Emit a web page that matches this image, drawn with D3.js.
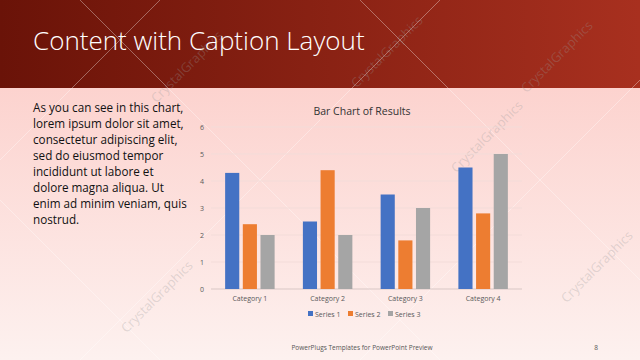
<!DOCTYPE html>
<html lang="en">
<head>
  <meta charset="UTF-8">
  <title>Content with Caption Layout</title>
  <script src="https://d3js.org/d3.v7.min.js"></script>
  <style>
    body { margin: 0; font-family: "Open Sans", sans-serif; }
    svg { display: block; }
  </style>
</head>
<body>
  <div id="slide"></div>

  <script>
    const categories = ["Category 1", "Category 2", "Category 3", "Category 4"];
    const seriesNames = ["Series 1", "Series 2", "Series 3"];
    const series1 = [4.3, 2.5, 3.5, 4.5];
    const series2 = [2.4, 4.4, 1.8, 2.8];
    const series3 = [2, 2, 3, 5];
    const yTicks = [0, 1, 2, 3, 4, 5, 6];
    const colors = ["#4472C4", "#ED7D31", "#A5A5A5"];
    const bodyLines = [
      "As you can see in this chart,",
      "lorem ipsum dolor sit amet,",
      "consectetur adipiscing elit,",
      "sed do eiusmod tempor",
      "incididunt ut labore et",
      "dolore magna aliqua. Ut",
      "enim ad minim veniam, quis",
      "nostrud."
    ];

    const W = 640, H = 360;
    const svg = d3.select("#slide").append("svg")
      .attr("width", W).attr("height", H);

    const defs = svg.append("defs");
    const bg = defs.append("linearGradient").attr("id", "bg")
      .attr("x1", 0).attr("y1", 0).attr("x2", 0).attr("y2", 1);
    bg.append("stop").attr("offset", "0%").attr("stop-color", "#fcc9c4");
    bg.append("stop").attr("offset", "100%").attr("stop-color", "#fdf1ef");
    const hdr = defs.append("linearGradient").attr("id", "hdr")
      .attr("x1", 0).attr("y1", 0).attr("x2", 1).attr("y2", 0);
    hdr.append("stop").attr("offset", "0%").attr("stop-color", "#6a1308");
    hdr.append("stop").attr("offset", "100%").attr("stop-color", "#a8301f");

    svg.append("rect").attr("width", W).attr("height", H).attr("fill", "url(#bg)");
    svg.append("rect").attr("width", W).attr("height", 88).attr("fill", "url(#hdr)");

    // watermark lines
    const wm = svg.append("g").attr("stroke", "#ffffff").attr("stroke-opacity", 0.35).attr("stroke-width", 1);
    [-200, 80, 360, 640].forEach(x0 => {
      wm.append("line").attr("x1", x0).attr("y1", 0).attr("x2", x0 + 360).attr("y2", 360);
      wm.append("line").attr("x1", x0 + 360).attr("y1", 0).attr("x2", x0).attr("y2", 360);
    });
    const wmText = svg.append("g")
      .attr("font-family", "Open Sans, sans-serif").attr("font-size", 13)
      .attr("fill", "#9a9a9a").attr("fill-opacity", 0.3);
    [[190, 70], [390, 55], [560, 60], [160, 300], [600, 270], [490, 140]]
      .forEach(([x, y]) => wmText.append("text").attr("transform", `translate(${x},${y}) rotate(-45)`)
        .attr("text-anchor", "middle").text("CrystalGraphics"));

    svg.append("text").attr("x", 33).attr("y", 50)
      .attr("fill", "#ffffff").attr("font-size", 26).attr("font-weight", 300)
      .text("Content with Caption Layout");

    svg.append("g").selectAll("text").data(bodyLines).join("text")
      .attr("x", 33).attr("y", (d, i) => 112 + i * 16)
      .attr("font-size", 11.7).attr("fill", "#111")
      .text(d => d);

    // chart
    const plot = {left: 211, right: 522, top: 127, bottom: 289};
    const x = d3.scaleBand().domain(categories).range([plot.left, plot.right]);
    const xs = d3.scaleBand().domain(seriesNames).range([0, x.bandwidth()]).paddingInner(0.2).paddingOuter(0.8);
    const y = d3.scaleLinear().domain([0, 6]).range([plot.bottom, plot.top]);

    svg.append("text").attr("x", 362).attr("y", 115).attr("text-anchor", "middle")
      .attr("font-size", 10.5).attr("fill", "#333").text("Bar Chart of Results");

    svg.append("g").selectAll("line").data(yTicks).join("line")
      .attr("x1", plot.left).attr("x2", plot.right)
      .attr("y1", d => y(d)).attr("y2", d => y(d))
      .attr("stroke", d => d === 0 ? "#d9c7c5" : "#f3dcd9").attr("stroke-width", 1);

    const yAxis = svg.append("g").attr("transform", `translate(${plot.left},0)`)
      .call(d3.axisLeft(y).tickValues(yTicks).tickFormat(d3.format("d")).tickSize(0).tickPadding(7));
    yAxis.select(".domain").remove();
    yAxis.selectAll("text").attr("font-size", 7).attr("fill", "#595959").attr("font-family", "Open Sans, sans-serif");

    const xAxis = svg.append("g").attr("transform", `translate(0,${plot.bottom})`)
      .call(d3.axisBottom(x).tickSize(0).tickPadding(7));
    xAxis.select(".domain").remove();
    xAxis.selectAll("text").attr("font-size", 7).attr("fill", "#595959").attr("font-family", "Open Sans, sans-serif");

    const table = categories.map((c, i) => ({cat: c, vals: [series1[i], series2[i], series3[i]]}));
    svg.append("g").selectAll("g").data(table).join("g")
      .attr("transform", d => `translate(${x(d.cat)},0)`)
      .selectAll("rect").data(d => d.vals.map((v, j) => ({s: seriesNames[j], v, j}))).join("rect")
      .attr("x", d => xs(d.s)).attr("width", xs.bandwidth())
      .attr("y", d => y(d.v)).attr("height", d => y(0) - y(d.v))
      .attr("fill", d => colors[d.j]);

    // legend
    const lg = svg.append("g").attr("font-size", 7).attr("fill", "#595959");
    const lx = [308, 348, 388];
    seriesNames.forEach((s, i) => {
      lg.append("rect").attr("x", lx[i]).attr("y", 311).attr("width", 5).attr("height", 5).attr("fill", colors[i]);
      lg.append("text").attr("x", lx[i] + 7).attr("y", 316.5).text(s);
    });

    svg.append("text").attr("x", 362).attr("y", 350).attr("text-anchor", "middle")
      .attr("font-size", 6.5).attr("fill", "#555").text("PowerPlugs Templates for PowerPoint Preview");
    svg.append("text").attr("x", 596).attr("y", 350).attr("text-anchor", "middle")
      .attr("font-size", 6.5).attr("fill", "#555").text("8");
  </script>
</body>
</html>
